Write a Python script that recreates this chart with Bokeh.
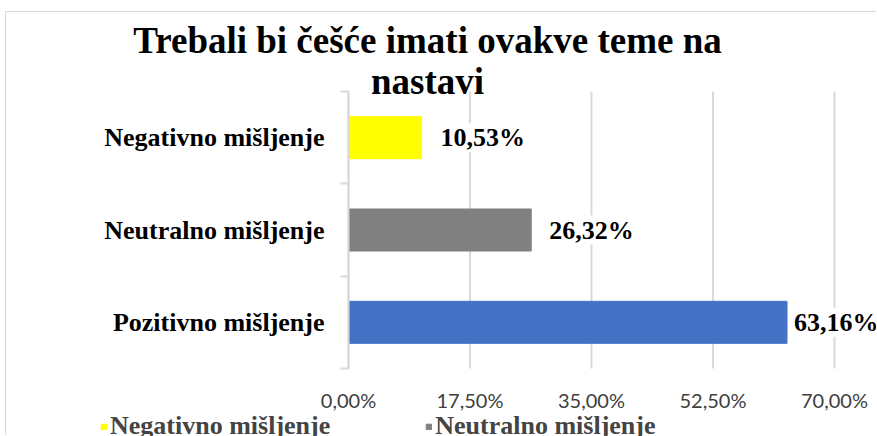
from bokeh.plotting import figure
from bokeh.models import (Range1d, FixedTicker, LabelSet, Label, ColumnDataSource,
                          Legend, LegendItem)
from bokeh.core.properties import value
from bokeh.embed import file_html
from bokeh.resources import INLINE

# ---------------- data ----------------
title_lines = ["Trebali bi češće imati ovakve teme na", "nastavi"]
categories = ["Pozitivno mišljenje", "Neutralno mišljenje", "Negativno mišljenje"]  # bottom -> top
values = [63.16, 26.32, 10.53]
colors = ["#4472C4", "#808080", "#FFFF00"]
x_ticks = [0, 17.5, 35, 52.5, 70]
x_tick_labels = ["0,00%", "17,50%", "35,00%", "52,50%", "70,00%"]
legend_order = ["Negativno mišljenje", "Neutralno mišljenje", "Pozitivno mišljenje"]

# ---------------- styles ----------------
SERIF = "Liberation Serif"
GRID = "#d9d9d9"
label_dx = [7, 18, 19]

n = len(categories)
ypos = [i + 0.5 for i in range(n)]
labels = [f"{v:.2f}".replace(".", ",") + "%" for v in values]

src = ColumnDataSource(dict(y=ypos, v=values, color=colors, label=labels, dx=label_dx))
grid_src = ColumnDataSource(dict(x=x_ticks))

# frame covers the whole canvas; axes are drawn at fixed locations inside it
W, H = 871, 424
x0_px, x70_px = 342, 828          # canvas px of 0 % and 70 %
xs = (x70_px - x0_px) / 70.0
y0_px, y3_px = 68, 345            # canvas px (from bottom) of category band edges
ys = (y3_px - y0_px) / n

p = figure(width=W, height=H, output_backend="svg", toolbar_location=None,
           x_range=Range1d(-x0_px / xs, (W - x0_px) / xs),
           y_range=Range1d(-y0_px / ys, n + (H - y3_px) / ys),
           min_border=0)
p.styles = {"margin-left": "5px", "margin-top": "11px",
            "border-left": "1px solid #d9d9d9", "border-top": "1px solid #d9d9d9"}
p.outline_line_color = None
p.background_fill_color = "white"
p.border_fill_color = "white"
p.grid.visible = False

# vertical gridlines (only over the plot area)
p.segment(x0="x", y0=0, x1="x", y1=n, source=grid_src, line_color=GRID, line_width=2)

r = p.hbar(y="y", right="v", left=0, height=0.455, color="color", source=src)

# x axis (tick labels only)
xa = p.xaxis[0]
xa.fixed_location = 0
xa.ticker = FixedTicker(ticks=x_ticks)
xa.major_label_overrides = {t: l for t, l in zip(x_ticks, x_tick_labels)}
xa.axis_line_color = None
xa.major_tick_line_color = None
xa.minor_tick_line_color = None
xa.major_label_text_font = "Lato"
xa.major_label_text_font_size = "20px"
xa.major_label_text_color = "#404040"
xa.major_label_standoff = 13

# y axis (categories)
ya = p.yaxis[0]
ya.fixed_location = 0
ya.bounds = (0, n)
ya.ticker = FixedTicker(ticks=ypos, minor_ticks=list(range(n + 1)))
ya.major_label_overrides = {y: c for y, c in zip(ypos, categories)}
ya.axis_line_color = GRID
ya.axis_line_width = 2
ya.major_tick_line_color = None
ya.major_tick_out = 0
ya.major_tick_in = 0
ya.minor_tick_line_color = GRID
ya.minor_tick_line_width = 2
ya.minor_tick_out = 8
ya.minor_tick_in = 0
ya.major_label_text_font = SERIF
ya.major_label_text_font_style = "bold"
ya.major_label_text_font_size = "26px"
ya.major_label_text_color = "black"
ya.major_label_standoff = 16

# data labels
p.add_layout(LabelSet(x="v", y="y", text="label", x_offset="dx", source=src,
                      text_font=value(SERIF), text_font_style="bold", text_font_size="26px",
                      text_color="black", text_baseline="middle", text_align="left",
                      background_fill_color="white"))

# title (two lines)
for line, vy in zip(title_lines, [396, 355]):
    p.add_layout(Label(x=421, y=vy, x_units="screen", y_units="screen", text=line,
                       text_font=SERIF, text_font_style="bold", text_font_size="37px",
                       text_color="black", text_align="center", text_baseline="alphabetic"))

# legend (second row falls below the visible area, as in the original)
items = [LegendItem(label=c, renderers=[r], index=categories.index(c)) for c in legend_order]
legend = Legend(items=items, orientation="horizontal", ncols=2, location=(94, -130),
                label_text_font=SERIF, label_text_font_style="bold", label_text_font_size="26px",
                label_standoff=3, glyph_width=7, glyph_height=7, spacing=95, padding=0, margin=0,
                border_line_color=None, background_fill_alpha=0)
p.add_layout(legend)

open("out.html", "w").write(file_html(p, INLINE))
